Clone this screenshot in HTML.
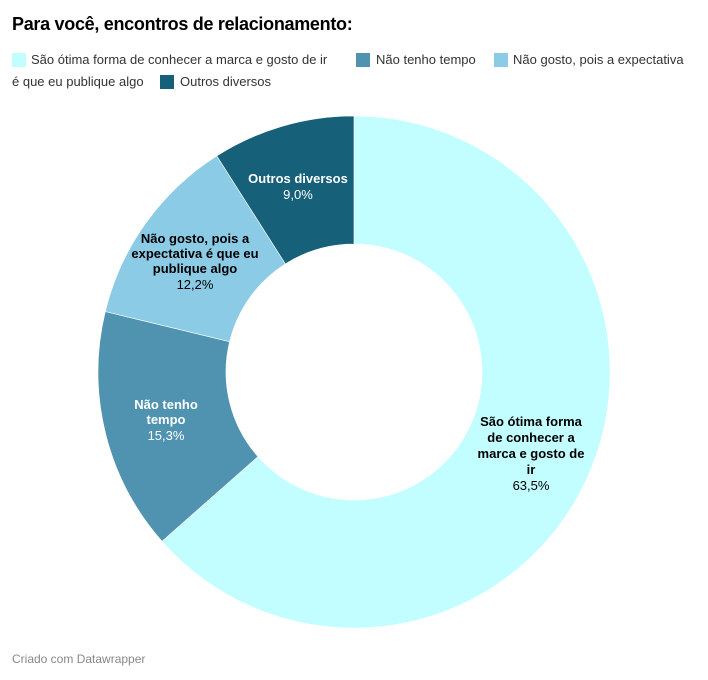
<!DOCTYPE html>
<html><head><meta charset="utf-8"><style>
body{margin:0;width:708px;height:680px;background:#fff;font-family:"Liberation Sans",sans-serif;position:relative;overflow:hidden}
.a{position:absolute;white-space:nowrap}
.t{left:12px;top:14px;font-size:18px;font-weight:bold;color:#000;letter-spacing:-0.3px}
.l{font-size:13px;color:#333}
.sq{position:absolute;width:14px;height:14px}
.f{left:12px;top:652px;font-size:12px;color:#888}
</style></head><body>
<div class="a t">Para você, encontros de relacionamento:</div>
<div class="sq" style="left:12px;top:53px;background:#c2fdff"></div>
<div class="a l" style="left:31px;top:52px">São ótima forma de conhecer a marca e gosto de ir</div>
<div class="sq" style="left:356px;top:53px;background:#4f93b0"></div>
<div class="a l" style="left:376px;top:52px">Não tenho tempo</div>
<div class="sq" style="left:494px;top:53px;background:#8ccbe6"></div>
<div class="a l" style="left:513px;top:52px">Não gosto, pois a expectativa</div>
<div class="a l" style="left:12px;top:74px">é que eu publique algo</div>
<div class="sq" style="left:160px;top:75px;background:#166079"></div>
<div class="a l" style="left:180px;top:74px">Outros diversos</div>
<svg class="a" style="left:0;top:0" width="708" height="680">
<g stroke="#fff" stroke-width="0.6">
<path d="M354,116 A256,256 0 1 1 162.0,541.3 L258.0,456.6 A128,128 0 1 0 354,244 Z" fill="#c2fdff"/>
<path d="M162.0,541.3 A256,256 0 0 1 105.3,311.5 L229.6,341.7 A128,128 0 0 0 258.0,456.6 Z" fill="#4f93b0"/>
<path d="M105.3,311.5 A256,256 0 0 1 216.8,155.9 L285.4,263.9 A128,128 0 0 0 229.6,341.7 Z" fill="#8ccbe6"/>
<path d="M216.8,155.9 A256,256 0 0 1 354,116 L354,244 A128,128 0 0 0 285.4,263.9 Z" fill="#166079"/>
</g>
<g font-size="13" text-anchor="middle" font-family="Liberation Sans, sans-serif">
<text x="298" y="183" fill="#fff" font-weight="bold">Outros diversos</text>
<text x="298" y="199" fill="#fff">9,0%</text>
<text x="195" y="243" fill="#000" font-weight="bold">Não gosto, pois a</text>
<text x="195" y="258" fill="#000" font-weight="bold">expectativa é que eu</text>
<text x="195" y="273" fill="#000" font-weight="bold">publique algo</text>
<text x="195" y="289" fill="#000">12,2%</text>
<text x="166" y="409" fill="#fff" font-weight="bold">Não tenho</text>
<text x="166" y="424" fill="#fff" font-weight="bold">tempo</text>
<text x="166" y="440" fill="#fff">15,3%</text>
<text x="531" y="426" fill="#000" font-weight="bold">São ótima forma</text>
<text x="531" y="442" fill="#000" font-weight="bold">de conhecer a</text>
<text x="531" y="458" fill="#000" font-weight="bold">marca e gosto de</text>
<text x="531" y="474" fill="#000" font-weight="bold">ir</text>
<text x="531" y="490" fill="#000">63,5%</text>
</g>
</svg>
<div class="a f">Criado com Datawrapper</div>
</body></html>
